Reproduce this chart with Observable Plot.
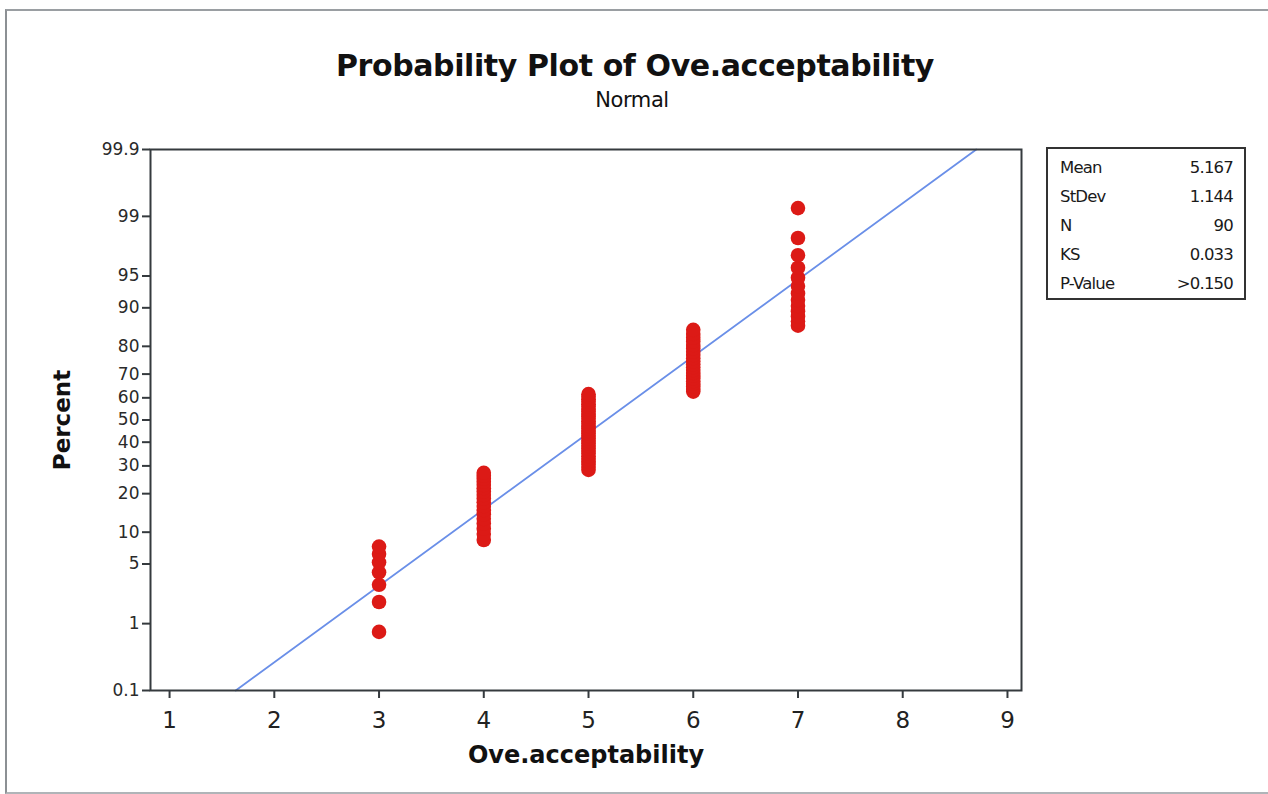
<!DOCTYPE html>
<html>
<head>
<meta charset="utf-8">
<script src="https://cdn.jsdelivr.net/npm/d3@7"></script>
<script src="https://cdn.jsdelivr.net/npm/@observablehq/plot@0.6"></script>
<style>
  html, body { margin: 0; padding: 0; background: #fff; }
  #wrap { position: relative; width: 1268px; height: 794px; overflow: hidden; font-family: "DejaVu Sans", Verdana, sans-serif; }
  #border { position: absolute; left: 5px; top: 9px; width: 1262px; height: 781px;
            border-left: 2px solid #8c9094; border-top: 2px solid #9a9ea2; border-bottom: 2px solid #b0b4b8; border-right: 1px solid #d0d3d6; }
  #title { position: absolute; left: 0; width: 1270px; top: 48px; text-align: center; font-weight: bold; font-size: 30px; color: #111; letter-spacing: -0.4px; }
  #subtitle { position: absolute; left: 0; width: 1264px; top: 88px; text-align: center; font-size: 21px; color: #111; letter-spacing: -0.4px; }
  #stats { position: absolute; left: 1046px; top: 147px; width: 196px; height: 149px; border: 2px solid #333; font-size: 16.5px; color: #1a1a1a; letter-spacing: -0.8px; }
  .row { position: absolute; left: 12px; right: 11px; height: 20px; }
  .row .k { position: absolute; left: 0; }
  .row .v { position: absolute; right: 0; }
  #plot { position: absolute; left: 0; top: 0; }
</style>
</head>
<body>
<div id="wrap">
  <div id="border"></div>
  <div id="plot"></div>
  <div id="title"></div>
  <div id="subtitle"></div>
  <div id="stats"></div>
</div>
<script>
// ---------- data ----------
const titleText = "Probability Plot of Ove.acceptability";
const subtitleText = "Normal";
const xLabel = "Ove.acceptability";
const yLabel = "Percent";

// observed scores and how many of the 90 responses had each score
const scores = [3, 4, 5, 6, 7];
const counts = [7, 18, 31, 21, 13];

// fitted normal parameters (from the legend box)
const fitMean = 5.167;
const fitSd = 1.144;

// legend box
const statLabels = ["Mean", "StDev", "N", "KS", "P-Value"];
const statValues = ["5.167", "1.144", "90", "0.033", ">0.150"];

// axis ticks
const xTicks = [1, 2, 3, 4, 5, 6, 7, 8, 9];
const yTickPercents = [0.1, 1, 5, 10, 20, 30, 40, 50, 60, 70, 80, 90, 95, 99, 99.9];
const yTickLabels = ["0.1", "1", "5", "10", "20", "30", "40", "50", "60", "70", "80", "90", "95", "99", "99.9"];

// ---------- inverse normal CDF (Acklam) for the probability scale ----------
function qnorm(p) {
  const a = [-3.969683028665376e+01, 2.209460984245205e+02, -2.759285104469687e+02, 1.383577518672690e+02, -3.066479806614716e+01, 2.506628277459239e+00];
  const b = [-5.447609879822406e+01, 1.615858368580409e+02, -1.556989798598866e+02, 6.680131188771972e+01, -1.328068155288572e+01];
  const c = [-7.784894002430293e-03, -3.223964580411365e-01, -2.400758277161838e+00, -2.549732539343734e+00, 4.374664141464968e+00, 2.938163982698783e+00];
  const d = [7.784695709041462e-03, 3.224671290700398e-01, 2.445134137142996e+00, 3.754408661907416e+00];
  const pl = 0.02425, ph = 1 - pl;
  let q, r;
  if (p < pl) {
    q = Math.sqrt(-2 * Math.log(p));
    return (((((c[0]*q+c[1])*q+c[2])*q+c[3])*q+c[4])*q+c[5]) / ((((d[0]*q+d[1])*q+d[2])*q+d[3])*q+1);
  } else if (p <= ph) {
    q = p - 0.5; r = q*q;
    return (((((a[0]*r+a[1])*r+a[2])*r+a[3])*r+a[4])*r+a[5])*q / (((((b[0]*r+b[1])*r+b[2])*r+b[3])*r+b[4])*r+1);
  } else {
    q = Math.sqrt(-2 * Math.log(1 - p));
    return -(((((c[0]*q+c[1])*q+c[2])*q+c[3])*q+c[4])*q+c[5]) / ((((d[0]*q+d[1])*q+d[2])*q+d[3])*q+1);
  }
}

// ---------- build plotting table (median ranks, Benard) ----------
const N = d3.sum(counts);
const points = [];
let rank = 0;
scores.forEach((s, k) => {
  for (let j = 0; j < counts[k]; j++) {
    rank++;
    const p = (rank - 0.3) / (N + 0.4);
    points.push({score: s, z: qnorm(p)});
  }
});

const zLo = qnorm(yTickPercents[0] / 100);
const zHi = qnorm(yTickPercents[yTickPercents.length - 1] / 100);
const yTickZ = yTickPercents.map(p => qnorm(p / 100));
const fitLine = [zLo, zHi].map(z => ({x: fitMean + fitSd * z, z}));

const chart = Plot.plot({
  width: 1268,
  height: 794,
  marginLeft: 150,
  marginRight: 247,
  marginTop: 149,
  marginBottom: 104,
  style: {background: "transparent", fontFamily: "DejaVu Sans, Verdana, sans-serif", color: "#222"},
  x: {domain: [0.818, 9.134]},
  y: {domain: [zLo, zHi]},
  marks: [
    Plot.line(fitLine, {x: "x", y: "z", stroke: "#6a8fe8", strokeWidth: 1.8}),
    Plot.dot(points, {x: "score", y: "z", r: 7.3, fill: "#dc1a16", stroke: "none"}),
    Plot.frame({stroke: "#353a3e", strokeWidth: 2}),
    Plot.axisX({ticks: xTicks, tickSize: 8, tickPadding: 13, fontSize: 23, label: null, stroke: "#353a3e", strokeWidth: 2, fill: "#222"}),
    Plot.axisY({ticks: yTickZ, tickFormat: d => yTickLabels[yTickZ.indexOf(d)], tickSize: 8, tickPadding: 3, fontSize: 17, label: null, stroke: "#353a3e", strokeWidth: 2, fill: "#2a2a2a", style: {letterSpacing: "-1.8px"}}),
    Plot.text([xLabel], {text: d => d, frameAnchor: "bottom", dy: 72, fontSize: 24, fontWeight: "bold", fill: "#111", style: {letterSpacing: "-0.8px"}}),
    Plot.text([yLabel], {text: d => d, frameAnchor: "left", textAnchor: "middle", dx: -88, rotate: -90, fontSize: 23, fontWeight: "bold", fill: "#111", style: {letterSpacing: "-0.8px"}})
  ]
});
document.getElementById("plot").appendChild(chart);

document.getElementById("title").textContent = titleText;
document.getElementById("subtitle").textContent = subtitleText;
const stats = document.getElementById("stats");
statLabels.forEach((lab, i) => {
  const row = document.createElement("div");
  row.className = "row";
  row.style.top = (9 + i * 29) + "px";
  const k = document.createElement("span"); k.className = "k"; k.textContent = lab;
  const v = document.createElement("span"); v.className = "v"; v.textContent = statValues[i];
  row.appendChild(k); row.appendChild(v);
  stats.appendChild(row);
});
</script>
</body>
</html>
